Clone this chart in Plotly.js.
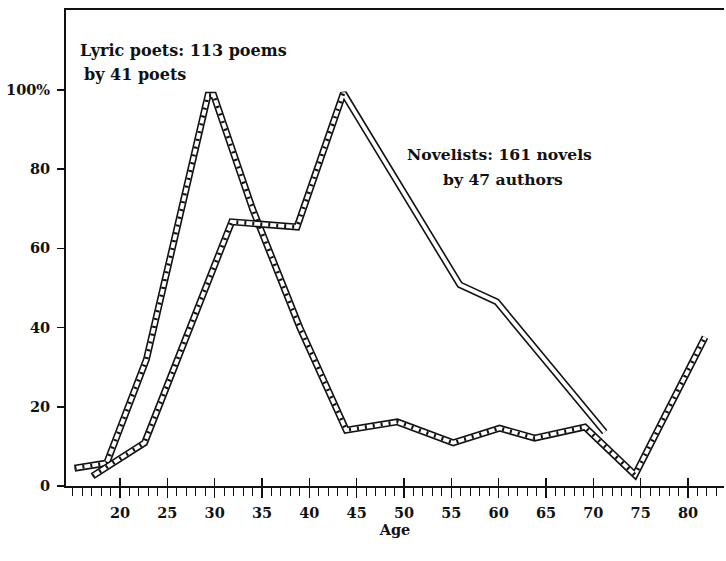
<!DOCTYPE html>
<html><head><meta charset="utf-8">
<script src="https://cdn.plot.ly/plotly-3.0.1.min.js"></script>
<style>html,body{margin:0;padding:0;background:#fff}</style>
</head><body><div id="chart" style="width:726px;height:561px"></div>
<script>
// Lyric poets: 113 poems by 41 poets
const lyricAge = [15.2, 18.6, 22.8, 29.3, 29.9, 34.0, 39.0, 43.9, 49.3, 55.2, 60.1, 63.8, 69.1, 74.4, 81.8];
const lyricPct = [4.5, 5.8, 32.0, 98.7, 98.7, 70.0, 40.0, 14.1, 16.2, 10.9, 14.6, 12.1, 14.9, 2.8, 37.6];
// Novelists: 161 novels by 47 authors
const novelAge = [17.1, 22.6, 31.8, 38.7, 43.6, 55.9, 59.8, 71.2];
const novelPct = [2.5, 10.9, 66.7, 65.4, 99.2, 50.8, 46.5, 13.6];
const novelHatchEnd = 5; // hatched up to the peak

const xTickVals = [20, 25, 30, 35, 40, 45, 50, 55, 60, 65, 70, 75, 80];
const xTickText = ['20', '25', '30', '35', '40', '45', '50', '55', '60', '65', '70', '75', '80'];
const yTickVals = [0, 20, 40, 60, 80, 100];
const yTickText = ['0', '20', '40', '60', '80', '100%'];

const INK = '#111';
const FONT = 'DejaVu Serif';

function band(x, y, hx, hy, xaxis) {
  const base = {mode: 'lines', hoverinfo: 'skip', showlegend: false, xaxis: xaxis || 'x', yaxis: 'y'};
  const t = [
    Object.assign({}, base, {x: x, y: y, line: {color: INK, width: 7}}),
    Object.assign({}, base, {x: x, y: y, line: {color: '#fff', width: 3.8}})
  ];
  if (hx) t.push(Object.assign({}, base, {x: hx, y: hy, line: {color: INK, width: 3.8, dash: '2px,6px'}}));
  return t;
}

const traces = [].concat(
  band(novelAge, novelPct, novelAge.slice(0, novelHatchEnd), novelPct.slice(0, novelHatchEnd), 'x2'),
  band(lyricAge, lyricPct, lyricAge, lyricPct)
);

const tickFont = {family: FONT, size: 14.5, color: INK, weight: 'bold'};
const lyricFont = {family: FONT, size: 16, color: INK, weight: 'bold'};
const novelFont = {family: FONT, size: 15.6, color: INK, weight: 'bold'};
const xRange = [14.3, 83.8];

const layout = {
  width: 726, height: 561,
  margin: {l: 66, r: 2, t: 10, b: 75},
  paper_bgcolor: '#fff', plot_bgcolor: '#fff',
  xaxis: {
    range: xRange, tickmode: 'array', tickvals: xTickVals, ticktext: xTickText,
    ticks: 'outside', ticklen: 10, tickwidth: 1.5, tickcolor: INK,
    showline: true, linewidth: 2, linecolor: INK, mirror: true,
    showgrid: false, zeroline: false, tickfont: tickFont, ticklabelstandoff: 3,
    minor: {tick0: 0, dtick: 1, ticks: 'outside', ticklen: 8, tickwidth: 1, tickcolor: INK, showgrid: false},
    title: {text: 'Age', font: tickFont, standoff: 3}
  },
  xaxis2: {
    matches: 'x', overlaying: 'x', anchor: 'y', side: 'bottom',
    tickmode: 'array', tickvals: xTickVals, ticks: 'inside', ticklen: 8, tickwidth: 1.5, tickcolor: INK,
    showticklabels: false, showline: false, showgrid: false, zeroline: false
  },
  yaxis: {
    range: [0, 120.2], tickmode: 'array', tickvals: yTickVals, ticktext: yTickText,
    ticks: 'outside', ticklen: 7, tickwidth: 1.5, tickcolor: INK,
    showline: true, linewidth: 2, linecolor: INK,
    showgrid: false, zeroline: false, tickfont: tickFont, ticklabelstandoff: 4
  },
  annotations: [
    {x: 15.6, y: 110, xref: 'x', yref: 'y', text: 'Lyric poets: 113 poems', showarrow: false, xanchor: 'left', yanchor: 'middle', font: lyricFont},
    {x: 16.0, y: 103.8, xref: 'x', yref: 'y', text: 'by 41 poets', showarrow: false, xanchor: 'left', yanchor: 'middle', font: lyricFont},
    {x: 60.1, y: 83.6, xref: 'x', yref: 'y', text: 'Novelists: 161 novels', showarrow: false, xanchor: 'center', yanchor: 'middle', font: novelFont},
    {x: 60.5, y: 77.3, xref: 'x', yref: 'y', text: 'by 47 authors', showarrow: false, xanchor: 'center', yanchor: 'middle', font: novelFont}
  ]
};

Plotly.newPlot('chart', traces, layout, {displayModeBar: false, staticPlot: true});
</script></body></html>
